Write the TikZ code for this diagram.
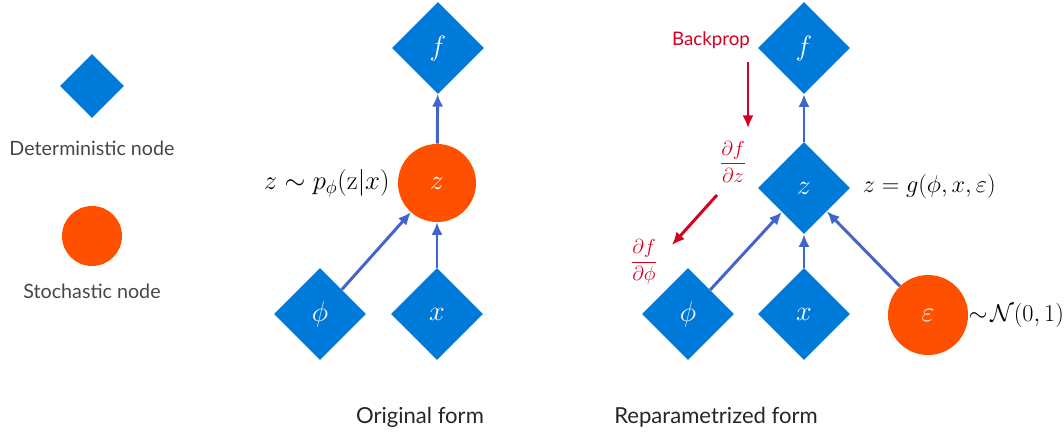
\RequirePackage{fix-cm}
\documentclass[tikz,border=0pt]{standalone}
\usepackage{amsmath,amssymb}
\usepackage[no-math]{fontspec}
\setmainfont{Lato}
\usepackage{tikz}
\usetikzlibrary{shapes.geometric, positioning, arrows.meta}

\definecolor{detblue}{RGB}{0,122,217}
\definecolor{stochorange}{RGB}{255,80,0}
\definecolor{edgeblue}{RGB}{66,100,204}
\definecolor{gradred}{RGB}{212,0,32}
\definecolor{legendgray}{RGB}{70,70,70}

\begin{document}
\begin{tikzpicture}
	[x=0.025cm, y=-0.025cm,
	 det/.style={diamond, fill=detblue, inner sep=0pt, minimum size=2.3cm, text=white, font=\fontsize{20}{24}\selectfont},
	 stoch/.style={circle, fill=stochorange, inner sep=0pt, text=white, font=\fontsize{20}{24}\selectfont},
	 link/.style={-{Latex[length=9pt,width=8pt]}, color=edgeblue, line width=2.1pt},
	 grad/.style={-{Latex[length=9pt,width=8pt]}, color=gradred, line width=2.1pt},
	 legendtext/.style={font=\fontsize{14}{17}\selectfont, text=legendgray},
	 caption/.style={font=\fontsize{15.7}{19}\selectfont, text=black!85}]
   \useasboundingbox (0,0) rectangle (1064,441);

   % legend
   \node[det, minimum size=1.6cm] (leg_det) at (92,86) {};
   \node[legendtext] (leg_dtext) at (92,148) {Deterministic node};
   \node[stoch, minimum size=1.5cm] (leg_sto) at (92,236) {};
   \node[legendtext] (leg_stext) at (92,291) {Stochastic node};

   % original form
   \node[det] (f_1) at (438,48) {$f$};
   \node[stoch, minimum size=1.95cm] (z_1) at (437,183) {$z$};
   \node[det] (phi_1) at (320,314) {$\phi$};
   \node[det] (x_1) at (437,314) {$x$};
   \node[font=\fontsize{19}{22}\selectfont] (zlab_1) [left=0.08cm of z_1] {$z \sim p_{\phi}(\mathrm{z}|x)$};
   \node[caption] (orig) at (420,417) {Original form};

   % reparametrized form
   \node[det] (f_2) at (804,48) {$f$};
   \node[det] (z_2) at (804,188) {$z$};
   \node[det] (phi_2) at (688,314) {$\phi$};
   \node[det] (x_2) at (804,314) {$x$};
   \node[stoch, minimum size=2cm] (eps) at (928,315) {$\varepsilon$};
   \node[font=\LARGE, anchor=west] (zlab_2) at (858,186) {$z = g(\phi, x, \varepsilon)$};
   \node[font=\LARGE, anchor=west, inner xsep=1pt] (epslab) at (967,315) {$\sim\!\mathcal{N}(0,1)$};
   \node[caption] (repar) at (716,417) {Reparametrized form};

   % backprop
   \node[text=gradred, font=\fontsize{13.3}{16}\selectfont] (bp) at (711,40) {Backprop};
   \node[text=gradred, font=\Large] (dfdz) at (733,162) {$\dfrac{\partial f}{\partial z}$};
   \node[text=gradred, font=\Large] (dfdphi) at (644,262) {$\dfrac{\partial f}{\partial \phi}$};
   \coordinate (bp_s) at (748,62);
   \coordinate (bp_e) at (748,128);
   \coordinate (gz_s) at (717,195);
   \coordinate (gz_e) at (672,245);

   \path[link]
    (z_1) edge (f_1)
    (phi_1) edge (z_1)
    (x_1) edge (z_1)
    (z_2) edge (f_2)
    (phi_2) edge (z_2)
    (x_2) edge (z_2)
    (eps) edge (z_2);

   \path[grad]
    (bp_s) edge (bp_e)
    (gz_s) edge (gz_e);
\end{tikzpicture}
\end{document}
